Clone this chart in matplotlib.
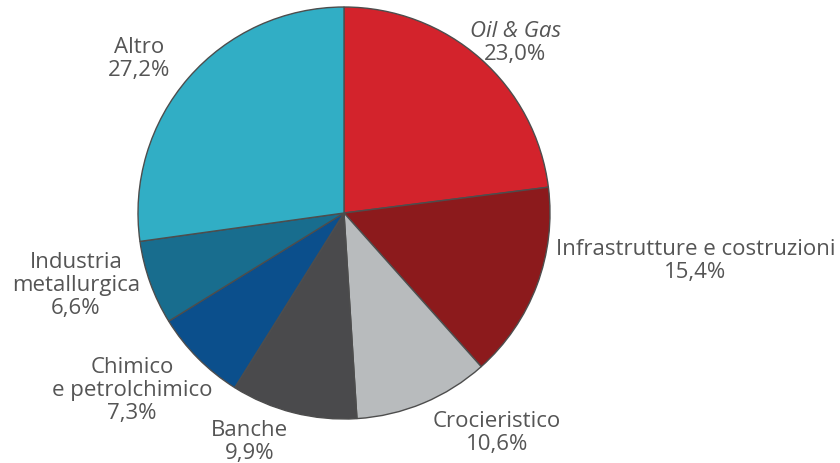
import numpy as np
import matplotlib.pyplot as plt

sectors = ["Oil & Gas", "Infrastrutture e costruzioni", "Crocieristico", "Banche",
           "Chimico\ne petrolchimico", "Industria\nmetallurgica", "Altro"]
shares = [23.0, 15.4, 10.6, 9.9, 7.3, 6.6, 27.2]
italic_names = ["Oil & Gas"]

colors = ["#d3232c", "#8c1a1c", "#b8bbbd", "#4a4a4c", "#0b4f8c", "#186d8e", "#31aec5"]
# label placement: (radius factor, angle shift in degrees from wedge middle)
placement = [(1.18, -3.4), (1.72, 13.2), (1.29, 12.5), (1.19, -8.5),
             (1.335, -5.3), (1.345, -5.2), (1.25, 3.7)]

plt.rcParams["font.family"] = ["Open Sans", "DejaVu Sans"]
W, H = 840, 463
cx, cy, R = 344, 213, 206
line_step = 23  # pixels between text lines

fig = plt.figure(figsize=(W / 100, H / 100), dpi=100)
ax = fig.add_axes([0, 0, 1, 1])
wedges, _ = ax.pie(shares, colors=colors, startangle=90, counterclock=False,
                   wedgeprops=dict(edgecolor="#4d4d4d", linewidth=1.0))
ax.set_xlim(-cx / R, (W - cx) / R)
ax.set_ylim(-(H - cy) / R, cy / R)
ax.set_aspect("auto")
ax.axis("off")

for w, name, val, (rf, dt) in zip(wedges, sectors, shares, placement):
    ang = np.deg2rad((w.theta1 + w.theta2) / 2 + dt)
    x, y = rf * np.cos(ang), rf * np.sin(ang)
    pct = f"{val:.1f}%".replace(".", ",")
    lines = name.split("\n") + [pct]
    n = len(lines)
    for i, line in enumerate(lines):
        style = "italic" if (name in italic_names and i < n - 1) else "normal"
        ax.annotate(line, (x, y), xytext=(0, ((n - 1) / 2 - i) * line_step),
                    textcoords="offset pixels", ha="center", va="center_baseline",
                    fontsize=16, color="#555555", style=style)

fig.savefig("out.png", dpi=100)
